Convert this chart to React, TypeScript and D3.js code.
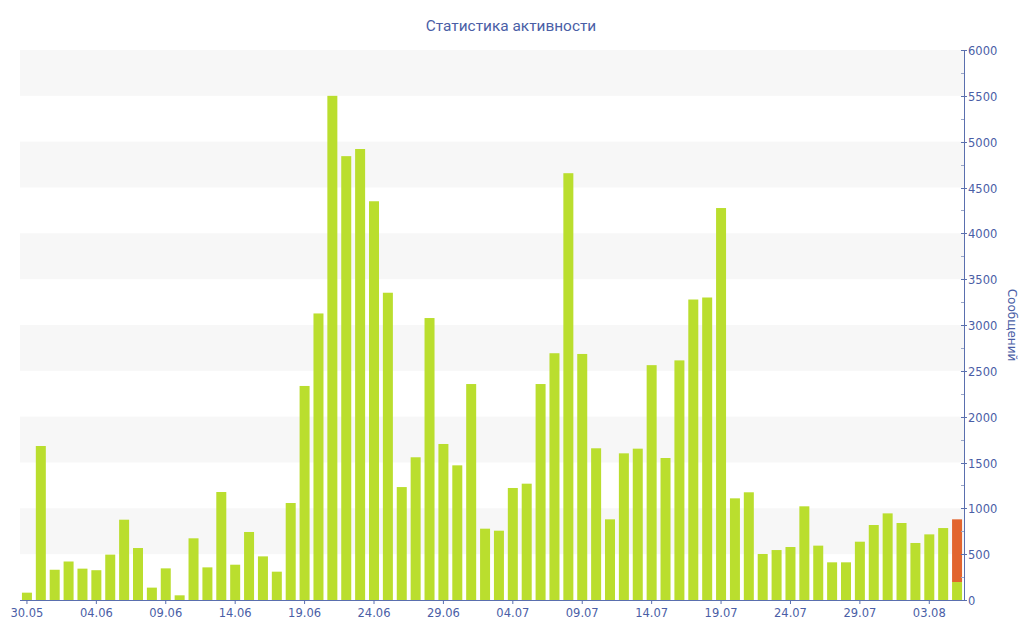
import * as d3 from "d3";

// one value per day, 30.05 .. 05.08
const messages = [
  80, 1680, 330, 420, 342, 325, 495, 876, 567, 135,
  345, 51, 673, 356, 1178, 385, 742, 476, 309, 1058,
  2335, 3126, 5500, 4842, 4920, 4350, 3352, 1232, 1557, 3076,
  1702, 1469, 2356, 778, 756, 1222, 1269, 2356, 2692, 4656,
  2684, 1655, 880, 1600, 1651, 2562, 1549, 2614, 3278, 3300,
  4276, 1109, 1175, 502, 545, 578, 1022, 593, 411, 411,
  636, 818, 945, 840, 622, 716, 785, 196,
];
// today's still running part, stacked on the last bar
const current = [
  0, 0, 0, 0, 0, 0, 0, 0, 0, 0, 0, 0, 0, 0, 0, 0, 0, 0, 0, 0,
  0, 0, 0, 0, 0, 0, 0, 0, 0, 0, 0, 0, 0, 0, 0, 0, 0, 0, 0, 0,
  0, 0, 0, 0, 0, 0, 0, 0, 0, 0, 0, 0, 0, 0, 0, 0, 0, 0, 0, 0,
  0, 0, 0, 0, 0, 0, 0, 684,
];
const days = d3.timeDays(new Date(2014, 4, 30), new Date(2014, 7, 6));
const yTicks = [0, 500, 1000, 1500, 2000, 2500, 3000, 3500, 4000, 4500, 5000, 5500, 6000];

const title = "Статистика активности";
const yTitle = "Сообщений";

const W = 1024;
const H = 640;
const left = 20;
const right = 964;
const top = 50;
const bottom = 600;

const textColor = "#4a5ea6";
const axisColor = "#5a6fae";
const green = "#bade2e";
const orange = "#e2652f";
const font = "DejaVu Sans, Verdana, sans-serif";

const App = () => {
  const fmt = d3.timeFormat("%d.%m");
  const labels = days.map((d) => fmt(d));

  const x = d3.scaleBand().domain(labels).range([left, right]).paddingInner(0.28).paddingOuter(0.14);
  const y = d3.scaleLinear().domain([0, 6000]).range([bottom, top]);

  const bands = yTicks.filter((t) => t % 1000 === 500);
  const minor = d3.range(250, 6000, 500);

  return (
    <div style={{ position: "absolute", left: 0, top: 0 }}>
      <svg width={W} height={H} style={{ display: "block", background: "#fff" }} fontFamily={font}>
        {bands.map((b) => (
          <rect key={b} x={left} width={right - left} y={y(b + 500)} height={y(b) - y(b + 500)} fill="#f7f7f7" />
        ))}
        {labels.map((l, i) => {
          const bx = x(l) as number;
          return (
            <g key={l}>
              <rect x={bx} width={x.bandwidth()} y={y(messages[i])} height={y(0) - y(messages[i])} fill={green} />
              {current[i] > 0 && (
                <rect
                  x={bx}
                  width={x.bandwidth()}
                  y={y(messages[i] + current[i])}
                  height={y(messages[i]) - y(messages[i] + current[i])}
                  fill={orange}
                />
              )}
            </g>
          );
        })}
        <line x1={left} x2={right} y1={bottom + 0.5} y2={bottom + 0.5} stroke={axisColor} />
        {labels.map((l, i) =>
          i % 5 === 0 ? (
            <g key={l} transform={`translate(${(x(l) as number) + x.bandwidth() / 2},${bottom})`}>
              <line y1={0} y2={4} stroke={axisColor} />
              <text y={17} textAnchor="middle" fontSize={11.5} fill={textColor}>
                {l}
              </text>
            </g>
          ) : null
        )}
        <line x1={right + 0.5} x2={right + 0.5} y1={top} y2={bottom} stroke={axisColor} />
        {minor.map((m) => (
          <line key={m} x1={right - 3} x2={right} y1={Math.round(y(m)) + 0.5} y2={Math.round(y(m)) + 0.5} stroke="#9aa6c8" />
        ))}
        {yTicks.map((t) => (
          <g key={t} transform={`translate(${right},${Math.round(y(t)) + 0.5})`}>
            <line x1={-3} x2={3} stroke={axisColor} />
            <text x={4} dy="0.35em" fontSize={11.5} fill={textColor}>
              {t}
            </text>
          </g>
        ))}
        <text x={511} y={31} textAnchor="middle" fontSize={15.4} fontFamily="Roboto, sans-serif" fill={textColor}>
          {title}
        </text>
        <text transform={`translate(1008,325) rotate(90)`} textAnchor="middle" fontSize={12} fill={textColor}>
          {yTitle}
        </text>
      </svg>
    </div>
  );
};

export default App;
